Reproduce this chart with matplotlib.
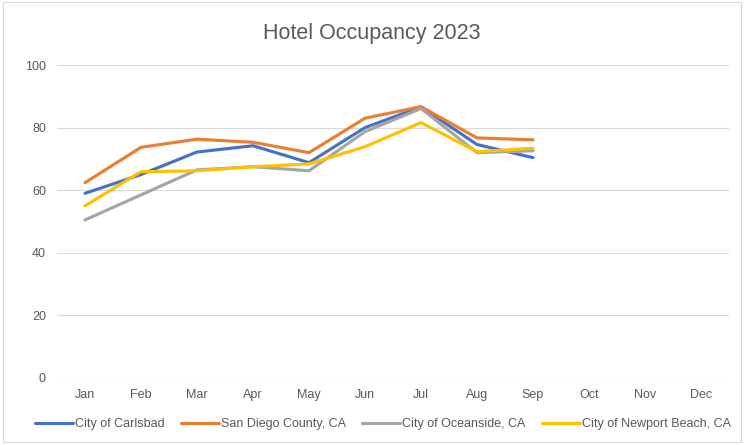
import matplotlib.pyplot as plt
from matplotlib.patches import Rectangle

plt.rcParams['font.family'] = ['Liberation Sans', 'DejaVu Sans']

months = ["Jan", "Feb", "Mar", "Apr", "May", "Jun", "Jul", "Aug", "Sep", "Oct", "Nov", "Dec"]
carlsbad = [59.0, 65.0, 72.2, 74.2, 68.8, 80.0, 86.6, 74.6, 70.4]
san_diego = [62.4, 73.7, 76.3, 75.3, 72.0, 83.0, 86.7, 76.7, 76.1]
oceanside = [50.5, 58.5, 66.5, 67.5, 66.2, 78.7, 86.1, 72.0, 72.6]
newport = [55.0, 65.9, 66.2, 67.5, 68.4, 73.9, 81.6, 72.3, 73.4]
series_names = ["City of Carlsbad", "San Diego County, CA", "City of Oceanside, CA", "City of Newport Beach, CA"]
colors = ["#4472C4", "#ED7D31", "#A5A5A5", "#FFC000"]
yticks = [0, 20, 40, 60, 80, 100]

fig = plt.figure(figsize=(7.44, 4.45), dpi=100)
fig.patches.append(Rectangle((0.004, 0.006), 0.992, 0.99, transform=fig.transFigure,
                             fill=False, edgecolor="#D9D9D9", linewidth=0.8))
ax = fig.add_axes([57 / 744, 1 - 378 / 445, 672 / 744, 313 / 445])

x = list(range(len(months)))
for vals, name, c in zip([carlsbad, san_diego, oceanside, newport], series_names, colors):
    ax.plot(x[:len(vals)], vals, color=c, linewidth=2.25, label=name, solid_capstyle="round")

ax.set_xlim(-0.5, 11.5)
ax.set_ylim(0, 100)
ax.set_xticks(x)
ax.set_xticklabels(months)
ax.set_yticks(yticks)
ax.tick_params(length=0, labelsize=9, colors="#595959", pad=8)
ax.grid(axis="y", color="#D9D9D9", linewidth=0.8)
ax.set_axisbelow(True)
for s in ax.spines.values():
    s.set_visible(False)

fig.suptitle("Hotel Occupancy 2023", y=0.948, fontsize=15.5, color="#595959")
fig.legend(loc="center", bbox_to_anchor=(0.515, 0.047), ncol=4, frameon=False,
           fontsize=9, handlelength=3, handletextpad=0.2, columnspacing=1.3,
           labelcolor="#595959")

fig.savefig("out.png", dpi=100)
